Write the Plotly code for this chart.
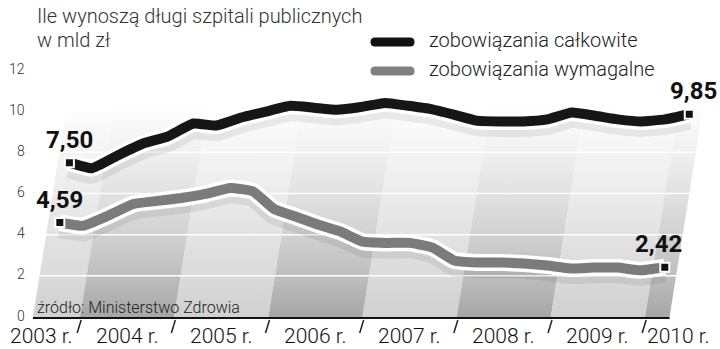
import plotly.graph_objects as go

# ---------------- data (quarterly) ----------------
years = [2003, 2003,
         2004, 2004, 2004, 2004,
         2005, 2005, 2005, 2005,
         2006, 2006, 2006, 2006,
         2007, 2007, 2007, 2007,
         2008, 2008, 2008, 2008,
         2009, 2009, 2009, 2009,
         2010]
quarters = [3, 4,
            1, 2, 3, 4,
            1, 2, 3, 4,
            1, 2, 3, 4,
            1, 2, 3, 4,
            1, 2, 3, 4,
            1, 2, 3, 4,
            1]
total = [7.50, 7.23, 7.85, 8.43, 8.77, 9.40, 9.30, 9.69, 9.98, 10.26, 10.17,
         10.07, 10.20, 10.40, 10.26, 10.10, 9.83, 9.54, 9.50, 9.50, 9.60,
         9.93, 9.78, 9.60, 9.50, 9.60, 9.85]
due = [4.59, 4.43, 4.92, 5.49, 5.64, 5.78, 5.98, 6.27, 6.10, 5.25, 4.87,
       4.48, 4.14, 3.66, 3.60, 3.60, 3.37, 2.75, 2.65, 2.65, 2.60, 2.50,
       2.36, 2.40, 2.40, 2.27, 2.42]
year_ticks = [2003, 2004, 2005, 2006, 2007, 2008, 2009, 2010]
year_labels = ["2003 r.", "2004 r.", "2005 r.", "2006 r.", "2007 r.",
               "2008 r.", "2009 r.", "2010 r."]
y_ticks = [0, 2, 4, 6, 8, 10, 12]
series_names = ["zobowiązania całkowite", "zobowiązania wymagalne"]
title_lines = ["Ile wynoszą długi szpitali publicznych", "w mld zł"]
source = "źródło: Ministerstwo Zdrowia"

# ---------------- geometry / style ----------------
W, H = 720, 349
SKEW = 0.035            # slant of the "perspective" plane (years per value unit)
AX_START, AX_END = 2003.5, 2010.26
X_RANGE = [2003.469, 2010.796]
Y_RANGE = [0, 12]
TOP = 12.0
LIGHT = "Roboto"
NUM_FONT = "Liberation Sans Narrow, Roboto"
BLACK = "#161616"
GREY = "#7b7b7b"


def px(x):
    return x / W


def py(y):
    return 1 - y / H


t = [y + (q - 0.5) / 4 for y, q in zip(years, quarters)]


def skew(tt, vv):
    return [a + SKEW * b for a, b in zip(tt, vv)]


fig = go.Figure()

# background slanted year columns with vertical fade
bounds = [AX_START] + year_ticks[1:] + [AX_END]
for i in range(len(bounds) - 1):
    b0, b1 = bounds[i], bounds[i + 1]
    if i % 2 == 1:
        cs = [[0, "#a6a6a6"], [0.18, "#c0c0c0"], [0.42, "#dadada"],
              [0.68, "#f1f1f1"], [0.86, "#ffffff"], [1, "#ffffff"]]
    else:
        cs = [[0, "#d0d0d0"], [0.18, "#dbdbdb"], [0.42, "#e7e7e7"],
              [0.68, "#f5f5f5"], [0.86, "#ffffff"], [1, "#ffffff"]]
    fig.add_trace(go.Scatter(
        x=[b0, b1, b1 + SKEW * TOP, b0 + SKEW * TOP, b0],
        y=[0, 0, TOP, TOP, 0],
        mode="lines", line=dict(width=0), fill="toself",
        fillgradient=dict(type="vertical", colorscale=cs, start=0, stop=TOP),
        hoverinfo="skip", showlegend=False))

# white grid lines on the slanted plane
for v in y_ticks[1:-1]:
    fig.add_trace(go.Scatter(
        x=[AX_START + SKEW * v, AX_END + SKEW * v], y=[v, v],
        mode="lines", line=dict(color="white", width=1.5),
        hoverinfo="skip", showlegend=False))

# data series: soft shadow, white outline, line
for vals, col in [(total, BLACK), (due, GREY)]:
    xs = skew(t, vals)
    fig.add_trace(go.Scatter(
        x=xs, y=[v - 0.22 for v in vals], mode="lines",
        line=dict(color="rgba(0,0,0,0.075)", width=22, shape="spline", smoothing=0.4),
        hoverinfo="skip", showlegend=False, cliponaxis=False))
    fig.add_trace(go.Scatter(
        x=xs, y=vals, mode="lines",
        line=dict(color="white", width=17, shape="spline", smoothing=0.4),
        hoverinfo="skip", showlegend=False, cliponaxis=False))
    fig.add_trace(go.Scatter(
        x=xs, y=vals, mode="lines",
        line=dict(color=col, width=10, shape="spline", smoothing=0.4),
        showlegend=False, cliponaxis=False))

# end markers + value labels
annotations = []
for vals, shifts in [(total, (0, 4)), (due, (0, -6))]:
    xs = skew(t, vals)
    ends = [0, len(vals) - 1]
    fig.add_trace(go.Scatter(
        x=[xs[i] for i in ends], y=[vals[i] for i in ends], mode="markers",
        marker=dict(symbol="square", size=9, color="#111111",
                    line=dict(color="white", width=2)),
        showlegend=False, cliponaxis=False))
    for i, sh in zip(ends, shifts):
        annotations.append(dict(
            x=xs[i], y=vals[i], xref="x", yref="y",
            text=f"{vals[i]:.2f}".replace(".", ","), showarrow=False,
            xshift=sh, yshift=23,
            font=dict(family=NUM_FONT, size=24, color="#111111", weight="bold")))

# quarter ticks axis
q_ticks = [y + q / 4 for y in range(2003, 2010) for q in (1, 2, 3)
           if AX_START < y + q / 4 < AX_END]

fig.update_layout(
    width=W, height=H, margin=dict(l=0, r=0, t=0, b=0),
    paper_bgcolor="white", plot_bgcolor="rgba(0,0,0,0)",
    xaxis=dict(domain=[px(30), 1], range=X_RANGE, showgrid=False,
               zeroline=False, showline=False, ticks="", showticklabels=False),
    xaxis2=dict(overlaying="x", anchor="y", side="bottom", range=X_RANGE,
                showgrid=False, zeroline=False, showline=False,
                tickmode="array", tickvals=q_ticks, ticks="outside",
                ticklen=7, tickwidth=1.5, tickcolor="#222222",
                showticklabels=False),
    yaxis=dict(domain=[py(317), py(70)], range=Y_RANGE, showgrid=False,
               zeroline=False, showline=False, ticks="", showticklabels=False),
    showlegend=False,
)

# y tick labels (compact boxes)
for v in y_ticks:
    annotations.append(dict(x=px(26), y=v, xref="paper", yref="y",
                            text=str(v), showarrow=False, xanchor="right",
                            yanchor="middle", height=13, borderpad=0, yshift=2,
                            font=dict(family=LIGHT, size=14, color="#333333",
                                      weight=300)))

# year labels (centered in each year, edge ones nudged inside the picture)
nudges = [9, 0, 0, 0, 0, 0, 0, -14]
for y, lab, nd in zip(year_ticks, year_labels, nudges):
    annotations.append(dict(x=y + 0.5, y=py(336), xref="x", yref="paper",
                            text=lab, showarrow=False, xshift=nd,
                            yanchor="middle", height=18, valign="middle",
                            borderpad=0,
                            font=dict(family=LIGHT, size=21, color="#111111",
                                      weight=300)))

shapes = []
# axis baseline
shapes.append(dict(type="line", xref="x", yref="paper", x0=AX_START, x1=AX_END,
                   y0=py(318), y1=py(318), line=dict(color="#111111", width=2)))
# slanted year boundary ticks
for y in year_ticks[1:]:
    shapes.append(dict(type="line", xref="x", yref="paper",
                       x0=y + 0.012, x1=y - 0.03, y0=py(320), y1=py(333),
                       line=dict(color="#222222", width=1.5)))


def pill(x1, x2, yc, r):
    pts = (f"M {px(x1)},{py(yc - r)} L {px(x2)},{py(yc - r)} "
           f"Q {px(x2 + r)},{py(yc - r)} {px(x2 + r)},{py(yc)} "
           f"Q {px(x2 + r)},{py(yc + r)} {px(x2)},{py(yc + r)} "
           f"L {px(x1)},{py(yc + r)} "
           f"Q {px(x1 - r)},{py(yc + r)} {px(x1 - r)},{py(yc)} "
           f"Q {px(x1 - r)},{py(yc - r)} {px(x1)},{py(yc - r)} Z")
    return pts


for yc, col in [(42, "#111111"), (71, "#808080")]:
    shapes.append(dict(type="path", xref="paper", yref="paper",
                       path=pill(375, 410, yc, 4.5), fillcolor=col,
                       line=dict(width=0)))

for name, yc in zip(series_names, [40, 69]):
    annotations.append(dict(x=px(427), y=py(yc), xref="paper", yref="paper",
                            text=name, showarrow=False, xanchor="left",
                            yanchor="middle",
                            font=dict(family=LIGHT, size=20, color="#222222",
                                      weight=300)))

for line, yc in zip(title_lines, [16, 40]):
    annotations.append(dict(x=px(35), y=py(yc), xref="paper", yref="paper",
                            text=line, showarrow=False, xanchor="left",
                            yanchor="middle",
                            font=dict(family=LIGHT, size=20, color="#333333",
                                      weight=300)))

annotations.append(dict(x=px(35), y=py(307), xref="paper", yref="paper",
                        text=source, showarrow=False, xanchor="left",
                        yanchor="middle",
                        font=dict(family=LIGHT, size=16, color="#222222",
                                  weight=300)))

fig.update_layout(shapes=shapes, annotations=annotations)
fig.write_html("out.html")
